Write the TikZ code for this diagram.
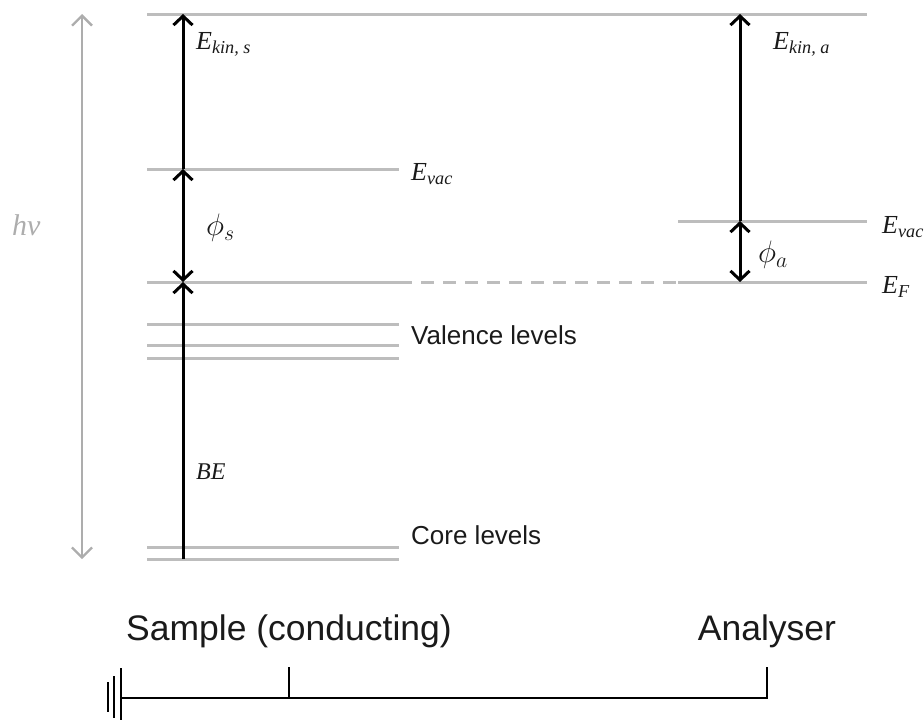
\RequirePackage{fix-cm}
\documentclass[tikz,border=0pt]{standalone}
\usepackage{fontspec}
\setmainfont{Liberation Sans}
\newfontfamily\tms{Liberation Serif}
\usetikzlibrary{arrows.meta}
\definecolor{lvgray}{HTML}{BDBDBD}
\definecolor{hvgray}{HTML}{ADADAD}
\definecolor{txt}{HTML}{1A1A1A}
\begin{document}
\begin{tikzpicture}[x=1pt,y=-1pt,
  level/.style={draw=lvgray, line width=3pt},
  dashlevel/.style={level, dash pattern=on 13pt off 9pt},
  barrow/.style={draw=black, line width=3pt},
  tipup/.style={-{Straight Barb[length=9pt,width=19pt]}},
  tipboth/.style={{Straight Barb[length=9pt,width=19pt]}-{Straight Barb[length=9pt,width=19pt]}},
  hvarrow/.style={draw=hvgray, line width=2.3pt, {Straight Barb[length=10pt,width=20pt]}-{Straight Barb[length=10pt,width=20pt]}},
  wire/.style={draw=black, line width=2.4pt},
  ground/.style={draw=black, line width=2.5pt},
  maths/.style={text=txt, inner sep=0pt, anchor=west, font=\tms\itshape\fontsize{26}{30}\selectfont},
  words/.style={text=txt, inner sep=0pt, anchor=west, font=\fontsize{26}{30}\selectfont},
  bigwords/.style={text=txt, inner sep=0pt, font=\fontsize{35.5}{40}\selectfont},
  greek/.style={text=txt, inner sep=0pt, anchor=west, font=\fontsize{31}{36}\selectfont},
]
\useasboundingbox (0,0) rectangle (924,720);

% level end points
\coordinate (topL) at (147,14);   \coordinate (topR) at (867,14);
\coordinate (vsL) at (147,169);   \coordinate (vsR) at (399,169);
\coordinate (efL) at (147,282);   \coordinate (efR) at (399,282);
\coordinate (efAL) at (678,282);  \coordinate (efAR) at (867,282);
\coordinate (vaL) at (678,221);   \coordinate (vaR) at (867,221);
\coordinate (v1L) at (147,324);   \coordinate (v1R) at (399,324);
\coordinate (v2L) at (147,345);   \coordinate (v2R) at (399,345);
\coordinate (v3L) at (147,358);   \coordinate (v3R) at (399,358);
\coordinate (c1L) at (147,547);   \coordinate (c1R) at (399,547);
\coordinate (c2L) at (147,559);   \coordinate (c2R) at (399,559);

% energy levels
\draw[level] (topL) -- (topR);
\draw[level] (vsL) -- (vsR);
\draw[level] (efL) -- (efR);
\draw[dashlevel] (efR) -- (efAL);
\draw[level] (efAL) -- (efAR);
\draw[level] (vaL) -- (vaR);
\draw[level] (v1L) -- (v1R);
\draw[level] (v2L) -- (v2R);
\draw[level] (v3L) -- (v3R);
\draw[level] (c1L) -- (c1R);
\draw[level] (c2L) -- (c2R);

% arrow anchor points
\coordinate (sTop) at (183,14);
\coordinate (sVac) at (183,169);
\coordinate (sEF) at (183,282);
\coordinate (sCore) at (183,559);
\coordinate (aTop) at (740,14);
\coordinate (aVac) at (740,221);
\coordinate (aEF) at (740,282);
\coordinate (hTop) at (82,14);
\coordinate (hBot) at (82,559);

% hv arrow
\draw[hvarrow] (hBot) -- (hTop);

% sample arrows
\draw[barrow, tipup] (sVac) -- (sTop);
\draw[barrow, tipboth] (sVac) -- (sEF);
\draw[barrow, tipup] (sCore) -- (sEF);

% analyser arrows
\draw[barrow, tipup] (aVac) -- (aTop);
\draw[barrow, tipboth] (aVac) -- (aEF);

% labels
\node[maths, text=hvgray, font=\tms\itshape\fontsize{30}{34}\selectfont] (hv) at (12,225) {hv};
\node[maths] (ekins) at (196,44) {E\textsubscript{kin, s}};
\node[maths] (evacs) at (411,174) {E\textsubscript{vac}};
\node[greek] (phis) at (206,228) {$\phi_s$};
\node[words] (val) at (411,335) {Valence levels};
\node[maths, font=\tms\itshape\fontsize{24}{28}\selectfont] (be) at (196,472) {BE};
\node[words] (core) at (411,535) {Core levels};
\node[maths] (ekina) at (773,44) {E\textsubscript{kin, a}};
\node[maths] (evaca) at (882,227) {E\textsubscript{vac}};
\node[greek] (phia) at (758,255) {$\phi_a$};
\node[maths] (ef) at (882,287) {E\textsubscript{F}};

% bottom circuit
\node[bigwords] (sample) at (289,631) {Sample (conducting)};
\node[bigwords] (analyser) at (767,631) {Analyser};
\coordinate (gnd) at (121,698);
\coordinate (sTick) at (289,667);
\coordinate (sFoot) at (289,698);
\coordinate (aTick) at (767,667);
\coordinate (aFoot) at (767,698);
\draw[wire] (gnd) -- (aFoot) -- (aTick);
\draw[wire] (sFoot) -- (sTick);
\coordinate (g1a) at (121,668); \coordinate (g1b) at (121,720);
\coordinate (g2a) at (114,676); \coordinate (g2b) at (114,718);
\coordinate (g3a) at (108,682); \coordinate (g3b) at (108,712);
\draw[ground] (g1a) -- (g1b);
\draw[ground] (g2a) -- (g2b);
\draw[ground] (g3a) -- (g3b);
\end{tikzpicture}
\end{document}
